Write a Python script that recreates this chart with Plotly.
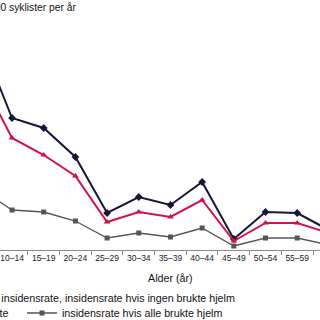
import plotly.graph_objects as go

ages = ["5–9", "10–14", "15–19", "20–24", "25–29", "30–34", "35–39",
        "40–44", "45–49", "50–54", "55–59", "60–64"]
ingen_hjelm = [105.6, 66, 61, 46.5, 18.5, 26.5, 22.5, 34, 5.5, 19, 18.5, 10]
faktisk = [86.5, 56, 47.5, 37, 14, 19, 16.5, 25, 4.5, 13.5, 13.5, 8.5]
alle_hjelm = [30.5, 20, 19, 14.5, 6, 8.5, 6.5, 11, 2, 6, 6, 2.5]

FONT = "Liberation Sans, Arial, sans-serif"
W, H = 320, 320
T, B = 20, 70  # plot area top / bottom margins
FS = 10.7

fig = go.Figure()
fig.add_trace(go.Scatter(
    x=ages, y=ingen_hjelm, mode="lines+markers",
    name="Beregnet insidensrate, insidensrate hvis ingen brukte hjelm",
    line=dict(color="#16163a", width=2),
    marker=dict(symbol="diamond", size=6, color="#16163a"),
    legend="legend"))
fig.add_trace(go.Scatter(
    x=ages, y=faktisk, mode="lines+markers",
    name="Faktisk insidensrate",
    line=dict(color="#d2124a", width=2),
    marker=dict(symbol="triangle-up", size=6, color="#d2124a"),
    legend="legend2"))
fig.add_trace(go.Scatter(
    x=ages, y=alle_hjelm, mode="lines+markers",
    name="insidensrate hvis alle brukte hjelm",
    line=dict(color="#555555", width=1.3),
    marker=dict(symbol="square", size=5, color="#555555"),
    legend="legend3"))

ph = H - T - B
def py(p):
    return (H - B - p) / ph

leg = dict(orientation="h", xanchor="left", yanchor="middle",
           font=dict(size=FS), bgcolor="rgba(0,0,0,0)")

fig.update_layout(
    width=W, height=H,
    margin=dict(l=0, r=0, t=T, b=B, autoexpand=False),
    paper_bgcolor="white", plot_bgcolor="white",
    font=dict(family=FONT, size=FS, color="#111111"),
    xaxis=dict(type="category", range=[0.62, 10.72],
               showline=True, linecolor="#8a8a8a", linewidth=1,
               ticks="outside", tickson="boundaries", ticklen=4,
               tickcolor="#8a8a8a", showgrid=False, zeroline=False,
               tickangle=0,
               tickfont=dict(size=8.5, color="#222222")),
    yaxis=dict(range=[0, 115], visible=False, showgrid=False),
    legend=dict(leg, x=-85 / W, y=py(298)),
    legend2=dict(leg, x=-126 / W, y=py(313)),
    legend3=dict(leg, x=22 / W, y=py(313)),
    showlegend=True,
    annotations=[
        dict(text="Alder (år)", xref="paper", yref="paper",
             x=170 / W, y=py(278), xanchor="center", yanchor="middle",
             showarrow=False, font=dict(size=FS)),
        dict(text="Insidens per 100 000 syklister per år", xref="paper",
             yref="paper", x=79 / W, y=py(7), xanchor="right",
             yanchor="middle", showarrow=False, font=dict(size=10.3)),
    ],
)

fig.write_html("out.html")
